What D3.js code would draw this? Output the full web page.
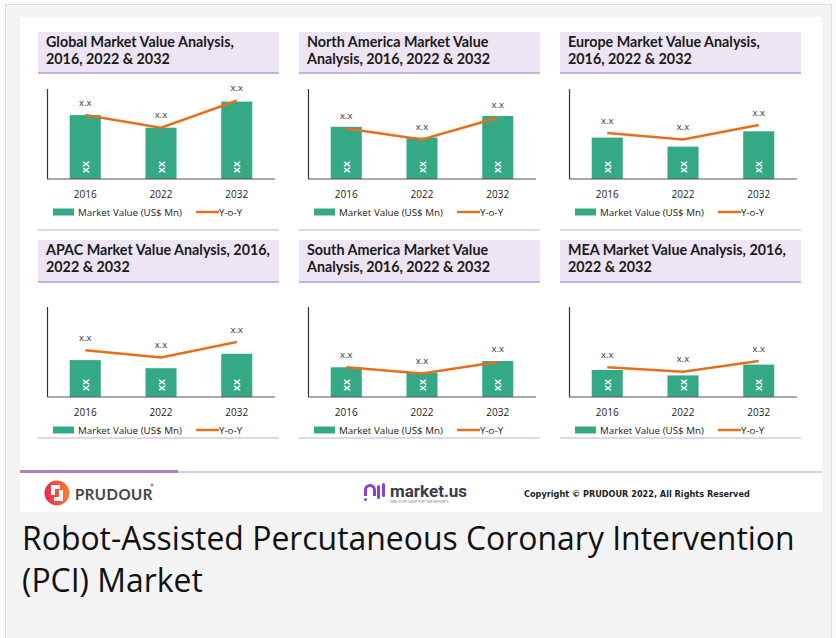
<!DOCTYPE html>
<html>
<head>
<meta charset="utf-8">
<script src="https://cdn.jsdelivr.net/npm/d3@7"></script>
<style>
  body { margin: 0; background: #fafafa; }
  svg { display: block; }
</style>
</head>
<body>
<svg id="chart" width="836" height="638"></svg>
<script>
const years = ["2016", "2022", "2032"]
const regions = ["Global", "North America", "Europe", "APAC", "South America", "MEA"]
const titleLines = [
    ["Global Market Value Analysis,", "2016, 2022 & 2032"],
    ["North America Market Value", "Analysis, 2016, 2022 & 2032"],
    ["Europe Market Value Analysis,", "2016, 2022 & 2032"],
    ["APAC Market Value Analysis, 2016,", "2022 & 2032"],
    ["South America Market Value", "Analysis, 2016, 2022 & 2032"],
    ["MEA Market Value Analysis, 2016,", "2022 & 2032"]
]
// bar heights (market value) and y-o-y line on a 0-100 scale
const marketValue = [
    [71, 57, 86],
    [58, 46, 70],
    [46, 36, 53],
    [41, 32, 48],
    [33, 27, 40],
    [30, 24, 36]
]
const yoy = [
    [71, 57, 87],
    [56, 44, 68],
    [51, 44, 60],
    [52, 44, 61],
    [33, 26, 39],
    [33, 28, 40]
]
const barLabel = "XX"
const pointLabel = "x.x"
const legendLabels = ["Market Value (US$ Mn)", "Y-o-Y"]
const mainTitle = ["Robot-Assisted Percutaneous Coronary Intervention", "(PCI) Market"]
const copyright = "Copyright © PRUDOUR 2022, All Rights Reserved"

const green = "#35a985"
const orange = "#e2701f"
const svg = d3.select("#chart")

// page frame
svg.append("rect")
    .attr("x", 5.5).attr("y", 4.5).attr("width", 826).attr("height", 640)
    .attr("fill", "#f4f4f4").attr("stroke", "#dcdcdc")
svg.append("rect")
    .attr("x", 20).attr("y", 17).attr("width", 802).attr("height", 495)
    .attr("fill", "#fff")

const colX = [38, 299, 560]
const rows = [
    {titleTop: 32, titleBottom: 73, axisTop: 89, axisY: 179, divider: 230},
    {titleTop: 240, titleBottom: 282, axisTop: 307, axisY: 397, divider: 438}
]

function fitFont(sel, size, target){
    sel.attr("font-size", size)
    const len = sel.node().getComputedTextLength()
    const fitted = size * target / len
    sel.attr("font-size", fitted)
    return fitted
}

// find the panel title size from the Global title width
const probe = svg.append("text")
    .attr("font-family", "Lato, 'Open Sans', sans-serif")
    .attr("font-weight", "bold")
    .text(titleLines[0][0])
const titleSize = Math.min(15, fitFont(probe, 14, 188))
probe.remove()

// legend text size from its width in the picture
const probe2 = svg.append("text")
    .attr("font-family", "'Open Sans', sans-serif")
    .text(legendLabels[0])
const legendSize = Math.min(11, fitFont(probe2, 10, 104))
probe2.remove()

regions.forEach((region, i) => {
    const cx = colX[i % 3]
    const row = rows[Math.floor(i / 3)]
    const g = svg.append("g").attr("class", "panel")

    g.append("rect")
        .attr("x", cx).attr("y", row.titleTop)
        .attr("width", 241).attr("height", row.titleBottom - row.titleTop)
        .attr("fill", "#ede5f3")
    g.append("line")
        .attr("x1", cx).attr("x2", cx + 241)
        .attr("y1", row.titleBottom).attr("y2", row.titleBottom)
        .attr("stroke", "#b89bd0").attr("stroke-width", 1.5)

    g.append("text")
        .attr("font-family", "Lato, 'Open Sans', sans-serif")
        .attr("font-weight", "bold")
        .attr("font-size", titleSize)
        .attr("fill", "#1a1a1a")
        .selectAll("tspan")
        .data(titleLines[i])
        .enter()
        .append("tspan")
        .attr("x", cx + 8)
        .attr("y", (d, k) => row.titleTop + 15 + k * 16.5)
        .text(d => d)

    g.append("line")
        .attr("x1", cx).attr("x2", cx + 241)
        .attr("y1", row.divider).attr("y2", row.divider)
        .attr("stroke", "#d8c8e6").attr("stroke-width", 1.5)

    const x = d3.scaleBand()
        .domain(years)
        .range([cx + 9, cx + 237])
        .paddingInner(0.59)
        .paddingOuter(0.3)
    const y = d3.scaleLinear()
        .domain([0, 100])
        .range([row.axisY, row.axisY - 90])

    const data = years.map((yr, k) => ({year: yr, value: marketValue[i][k], growth: yoy[i][k]}))

    g.selectAll("rect.bar")
        .data(data)
        .enter()
        .append("rect")
        .attr("class", "bar")
        .attr("x", d => x(d.year))
        .attr("width", x.bandwidth())
        .attr("y", d => y(d.value))
        .attr("height", d => y(0) - y(d.value))
        .attr("fill", green)

    g.selectAll("text.xx")
        .data(data)
        .enter()
        .append("text")
        .attr("class", "xx")
        .attr("transform", d => `translate(${x(d.year) + x.bandwidth() / 2}, ${row.axisY - 12}) rotate(-90)`)
        .attr("text-anchor", "middle")
        .attr("dominant-baseline", "central")
        .attr("font-family", "'Open Sans', sans-serif")
        .attr("font-weight", "bold")
        .attr("font-size", 9)
        .attr("fill", "#fff")
        .text(barLabel)

    // axes
    g.append("line")
        .attr("x1", cx + 9.5).attr("x2", cx + 9.5)
        .attr("y1", row.axisTop).attr("y2", row.axisY)
        .attr("stroke", "#333").attr("stroke-width", 1.2)
    const xAxis = g.append("g")
        .attr("transform", `translate(0, ${row.axisY})`)
        .call(d3.axisBottom(x).tickSize(0).tickPadding(12))
    xAxis.select(".domain")
        .attr("d", `M${cx + 9},0H${cx + 237}`)
        .attr("stroke", "#555").attr("stroke-width", 1.2)
    xAxis.selectAll("text")
        .attr("font-family", "'Open Sans', sans-serif")
        .attr("font-size", 10)
        .attr("fill", "#222")

    const line = d3.line()
        .x(d => x(d.year) + x.bandwidth() / 2)
        .y(d => y(d.growth))
    g.append("path")
        .datum(data)
        .attr("d", line)
        .attr("fill", "none")
        .attr("stroke", orange)
        .attr("stroke-width", 2.5)

    g.selectAll("text.pt")
        .data(data)
        .enter()
        .append("text")
        .attr("class", "pt")
        .attr("x", d => x(d.year) + x.bandwidth() / 2)
        .attr("y", d => y(d.growth) - 13)
        .attr("text-anchor", "middle")
        .attr("dominant-baseline", "central")
        .attr("font-family", "'Open Sans', sans-serif")
        .attr("font-size", 9.5)
        .attr("fill", "#333")
        .text(pointLabel)

    // legend
    const ly = row.axisY + 33
    g.append("rect")
        .attr("x", cx + 15).attr("y", ly - 3.5)
        .attr("width", 21).attr("height", 7)
        .attr("fill", green)
    g.append("line")
        .attr("x1", cx + 158).attr("x2", cx + 181)
        .attr("y1", ly).attr("y2", ly)
        .attr("stroke", orange).attr("stroke-width", 2.5)
    g.selectAll("text.lg")
        .data(legendLabels)
        .enter()
        .append("text")
        .attr("class", "lg")
        .attr("x", (d, k) => k === 0 ? cx + 40 : cx + 181)
        .attr("y", ly)
        .attr("dominant-baseline", "central")
        .attr("font-family", "'Open Sans', sans-serif")
        .attr("font-size", legendSize)
        .attr("fill", "#222")
        .text(d => d)
})

// footer bar
svg.append("line")
    .attr("x1", 178).attr("x2", 822).attr("y1", 472).attr("y2", 472)
    .attr("stroke", "#cdb9df").attr("stroke-width", 1.5)
svg.append("line")
    .attr("x1", 20).attr("x2", 178).attr("y1", 471.5).attr("y2", 471.5)
    .attr("stroke", "#a882c8").attr("stroke-width", 3)

// prudour logo
const defs = svg.append("defs")
const grad = defs.append("linearGradient").attr("id", "pg")
grad.append("stop").attr("offset", "0%").attr("stop-color", "#e8284e")
grad.append("stop").attr("offset", "100%").attr("stop-color", "#f5813a")
svg.append("circle").attr("cx", 57).attr("cy", 493).attr("r", 12.5).attr("fill", "url(#pg)")
svg.append("path")
    .attr("d", "M51,485h9v4h-5v6h-4z M54,501h9v-11h-4v7h-5z")
    .attr("fill", "#fff")
svg.append("text")
    .attr("x", 75).attr("y", 499.5)
    .attr("font-family", "Lato, sans-serif")
    .attr("font-weight", "bold")
    .attr("font-size", 15)
    .attr("letter-spacing", 0.5)
    .attr("fill", "#454545")
    .text("PRUDOUR")
svg.append("circle").attr("cx", 152).attr("cy", 485).attr("r", 1.5).attr("fill", "#f26a3d")

// market.us logo
const mg = svg.append("g").attr("fill", "#8a3fd8")
mg.append("path")
    .attr("d", "M364,496v-6a6,6 0 0 1 12,0v6h-3v-6a3,3 0 0 0 -6,0v6z")
mg.append("rect").attr("x", 377).attr("y", 485).attr("width", 3).attr("height", 14).attr("rx", 1.5)
mg.append("rect").attr("x", 382).attr("y", 483).attr("width", 3).attr("height", 14).attr("rx", 1.5)
mg.append("circle").attr("cx", 365.5).attr("cy", 499.5).attr("r", 1.5)
svg.append("text")
    .attr("x", 390).attr("y", 497)
    .attr("font-family", "Roboto, sans-serif")
    .attr("font-weight", "bold")
    .attr("font-size", 17)
    .attr("fill", "#3b3b4b")
    .text("market.us")
svg.append("text")
    .attr("x", 390).attr("y", 502.5)
    .attr("font-family", "Roboto, sans-serif")
    .attr("font-size", 3.6)
    .attr("fill", "#888")
    .text("ONE STOP SHOP FOR THE REPORTS")

const cr = svg.append("text")
    .attr("x", 524).attr("y", 497)
    .attr("font-family", "'Liberation Sans Narrow', 'DejaVu Sans Condensed', sans-serif")
    .attr("font-weight", "bold")
    .attr("fill", "#222")
    .text(copyright)
fitFont(cr, 10, 226)

// caption under the card
const cap = svg.append("text")
    .attr("font-family", "'Open Sans', sans-serif")
    .attr("fill", "#111")
cap.selectAll("tspan")
    .data(mainTitle)
    .enter()
    .append("tspan")
    .attr("x", 22)
    .attr("y", (d, k) => 550 + k * 42)
    .text(d => d)
cap.attr("font-size", 30)
const capLen = cap.select("tspan").node().getComputedTextLength()
cap.attr("font-size", 30 * 773 / capLen)
</script>
</body>
</html>
